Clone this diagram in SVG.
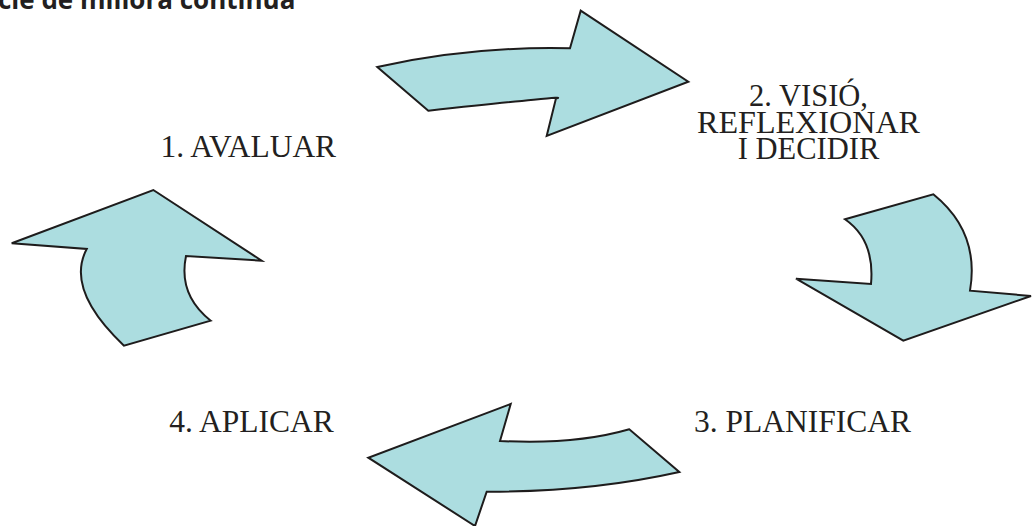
<svg xmlns="http://www.w3.org/2000/svg" width="1033" height="526" viewBox="0 0 1033 526">
  <style>
    .arrow { fill: #acdde0; stroke: #1e1c1c; stroke-width: 2; stroke-linejoin: miter; }
    .label { font-family: "Liberation Serif", "Times New Roman", serif; font-size: 31.5px; fill: #231f20; }
    .label-tight { font-family: "Liberation Serif", "Times New Roman", serif; font-size: 30.5px; fill: #231f20; }
    .title { font-family: "Open Sans", "Liberation Sans", sans-serif; font-weight: 700; font-size: 26px; fill: #231f20; }
  </style>
  <rect width="1033" height="526" fill="#ffffff"/>

  <text class="title" x="-2" y="8.5">cle de millora contínua</text>

  <g id="connectors">
    <!-- 1 -> 2 -->
    <path id="arrow-top" class="arrow" d="M377.3,67 Q470,46 570,48.3 L580.7,10.7 L688.3,81.7 L546.7,136 L556,98.3 Q575,95 428.3,110.7 Z"/>
    <!-- 2 -> 3 -->
    <path id="arrow-right" class="arrow" d="M845,219.3 L933.3,194.3 Q980,232 970,290.7 L1031,296 L903.3,340.7 L796,278.7 L871,284 Q875,240 845,219.3 Z"/>
    <!-- 3 -> 4 -->
    <path id="arrow-bottom" class="arrow" d="M510.7,404 L500,441 Q575,445 629.3,429.3 L679.3,472 Q590,492 486.7,491.7 L475,526 L368.3,457.7 Z"/>
    <!-- 4 -> 1 -->
    <path id="arrow-left" class="arrow" d="M153.3,190 L261.7,260.7 L186,256 Q178,295 210.7,320.7 L124,345.7 Q65,290 86.7,249 L11.7,243.3 Z"/>
  </g>

  <g id="node-avaluar">
    <text class="label" x="160.5" y="156.7">1. AVALUAR</text>
  </g>
  <g id="node-visio">
    <text class="label-tight" text-anchor="middle" x="808.5" y="106">2. VISIÓ,</text>
    <text class="label-tight" text-anchor="middle" x="808.5" y="132.7" textLength="223" lengthAdjust="spacingAndGlyphs">REFLEXIONAR</text>
    <text class="label-tight" text-anchor="middle" x="808.5" y="159.3">I DECIDIR</text>
  </g>
  <g id="node-planificar">
    <text class="label" x="694" y="431.7">3. PLANIFICAR</text>
  </g>
  <g id="node-aplicar">
    <text class="label" x="169.3" y="432.3">4. APLICAR</text>
  </g>
</svg>
